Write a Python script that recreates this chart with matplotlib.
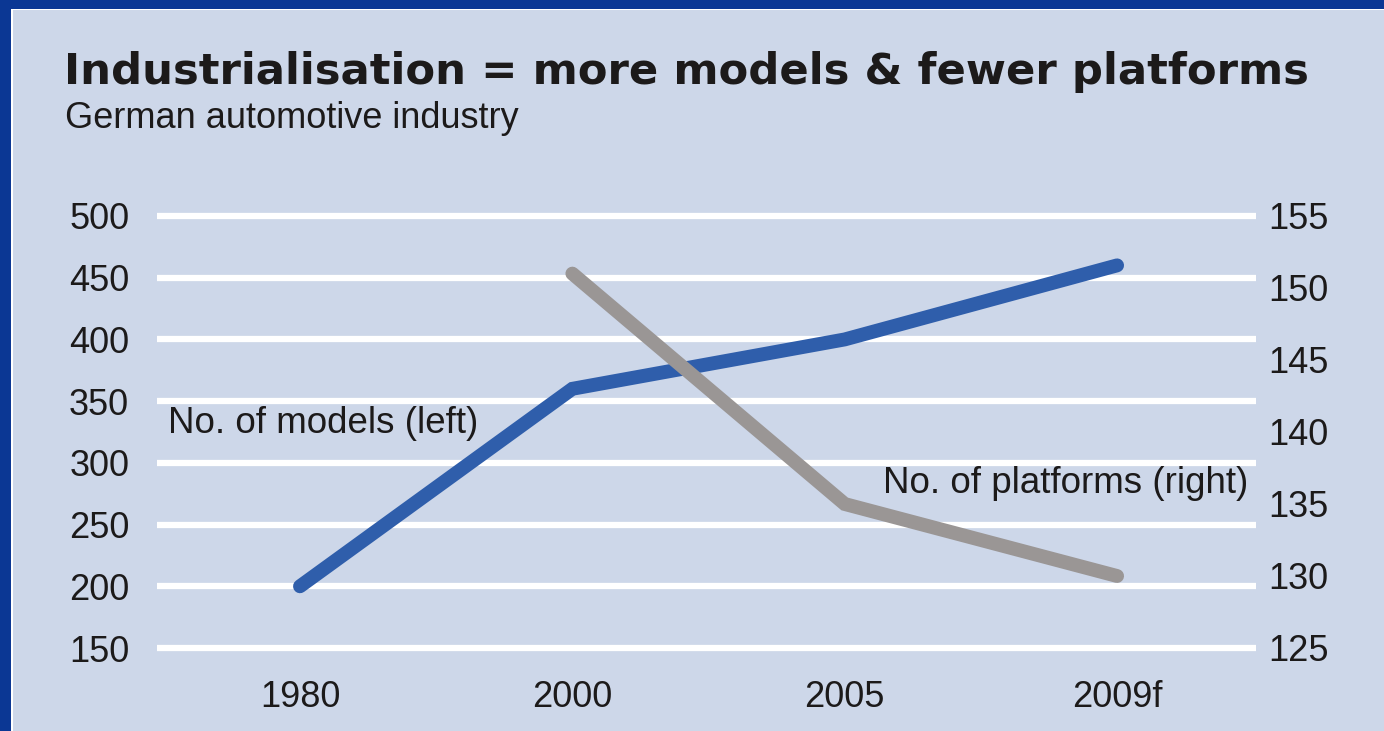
import numpy as np
import matplotlib.pyplot as plt
from matplotlib.patches import Rectangle

plt.rcParams['font.family'] = ['Liberation Sans', 'DejaVu Sans']

years = ['1980', '2000', '2005', '2009f']
models = [200, 360, 400, 460]
platform_years = ['2000', '2005', '2009f']
platforms = [151, 135, 130]
left_ticks = [150, 200, 250, 300, 350, 400, 450, 500]
right_ticks = [125, 130, 135, 140, 145, 150, 155]

panel = '#cdd7e9'
border = '#0b3794'
blue = '#2f5eab'
grey = '#9a9695'
ink = '#1c1a1a'

fig = plt.figure(figsize=[13.84, 7.31], dpi=100, facecolor=border)
# light panel on the dark blue frame
fig.patches.append(Rectangle((11 / 1384, 0), 1, 1 - 9 / 731, transform=fig.transFigure,
                             facecolor='white', edgecolor='none', zorder=-2))
fig.patches.append(Rectangle((13 / 1384, 0), 1, 1 - 10 / 731, transform=fig.transFigure,
                             facecolor=panel, edgecolor='none', zorder=-1))

fig.text(64 / 1384, 1 - 72 / 731, 'Industrialisation = more models & fewer platforms',
         fontsize=31.2, fontweight='bold', family='DejaVu Sans', color=ink, va='center', ha='left')
fig.text(65 / 1384, 1 - 118 / 731, 'German automotive industry',
         fontsize=26, color=ink, va='center', ha='left')

# left axis 150..500 spans y=648..216 px, pad 10 units each side
lo, hi = 140, 510
ppu = (648 - 216) / 350
ax_top = 216 - (hi - 500) * ppu
ax_bot = 648 + (150 - lo) * ppu
ax = fig.add_axes([157 / 1384, 1 - ax_bot / 731, (1256 - 157) / 1384, (ax_bot - ax_top) / 731])
ax.set_facecolor('none')
ax.set_ylim(lo, hi)
ax.set_xlim(-0.525, 3.51)
for v in left_ticks:
    ax.axhline(v, color='white', lw=4.5, solid_capstyle='round', zorder=1)

x_all = np.arange(len(years))
ax.plot(x_all, models, color=blue, lw=10, solid_capstyle='round', solid_joinstyle='miter', zorder=3)

ax2 = ax.twinx()
ax2.set_ylim(125 + (lo - 150) * 30 / 350, 125 + (hi - 150) * 30 / 350)
xp = [years.index(y) for y in platform_years]
ax2.plot(xp, platforms, color=grey, lw=10, solid_capstyle='round', solid_joinstyle='miter', zorder=3)

ax.set_xticks(x_all)
ax.set_xticklabels(years)
ax.set_yticks(left_ticks)
ax.set_yticklabels([str(v) for v in left_ticks])
ax2.set_yticks(right_ticks)
ax2.set_yticklabels([str(v) for v in right_ticks])

for a in (ax, ax2):
    for s in a.spines.values():
        s.set_visible(False)
ax.tick_params(axis='both', length=0, labelsize=26, labelcolor=ink)
ax.tick_params(axis='y', pad=20)
ax.tick_params(axis='x', pad=14)
ax2.tick_params(axis='y', length=0, labelsize=26, labelcolor=ink, pad=9)

ax.text(-0.485, 332, 'No. of models (left)', fontsize=26.5, color=ink, va='center', ha='left', zorder=4)
ax.text(3.482, 283, 'No. of platforms (right)', fontsize=26.5, color=ink, va='center', ha='right', zorder=4)

plt.savefig('out.png', dpi=100, facecolor=border)
